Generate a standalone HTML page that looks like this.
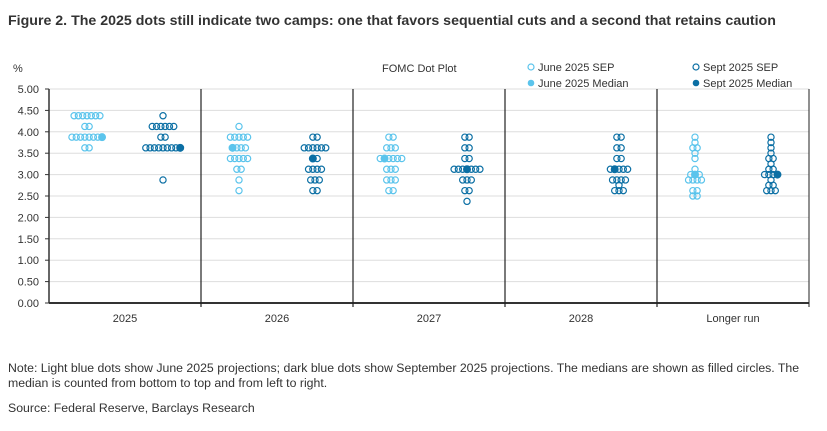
<!DOCTYPE html>
<html><head><meta charset="utf-8"><style>
body{margin:0;background:#fff;font-family:"Liberation Sans",sans-serif;}
svg text{font-family:"Liberation Sans",sans-serif;}
</style></head><body>
<svg width="827" height="426" viewBox="0 0 827 426">
<text x="8" y="25" font-size="14.2" font-weight="bold" fill="#333">Figure 2. The 2025 dots still indicate two camps: one that favors sequential cuts and a second that retains caution</text>
<text x="13" y="72" font-size="11" fill="#333">%</text>
<text x="382" y="72" font-size="11" fill="#333">FOMC Dot Plot</text>
<g>
<circle cx="531" cy="67" r="3" fill="#fff" stroke="#5bc4ec" stroke-width="1.2"/>
<text x="538" y="71" font-size="11" fill="#333">June  2025 SEP</text>
<circle cx="531" cy="83" r="3.3" fill="#5bc4ec"/>
<text x="538" y="87" font-size="11" fill="#333">June 2025 Median</text>
<circle cx="696" cy="67" r="3" fill="#fff" stroke="#0b6fa4" stroke-width="1.2"/>
<text x="703" y="71" font-size="11" fill="#333">Sept 2025 SEP</text>
<circle cx="696" cy="83" r="3.3" fill="#0b6fa4"/>
<text x="703" y="87" font-size="11" fill="#333">Sept 2025 Median</text>
</g>
<g id="plot"></g>
<text x="8" y="372" font-size="12.3" fill="#333">Note: Light blue dots show June 2025 projections; dark blue dots show September 2025 projections. The medians are shown as filled circles. The</text>
<text x="8" y="387" font-size="12.3" fill="#333">median is counted from bottom to top and from left to right.</text>
<text x="8" y="412" font-size="12.3" fill="#333">Source: Federal Reserve, Barclays Research</text>
</svg>
<script>
const categories=["2025","2026","2027","2028","Longer run"];
const yTicks=["0.00","0.50","1.00","1.50","2.00","2.50","3.00","3.50","4.00","4.50","5.00"];
// each: [value, count]
const juneDots=[
 [[3.625,2],[3.875,8],[4.125,2],[4.375,7]],
 [[2.625,1],[2.875,1],[3.125,2],[3.375,5],[3.625,4],[3.875,5],[4.125,1]],
 [[2.625,2],[2.875,3],[3.125,3],[3.375,6],[3.625,3],[3.875,2]],
 [],
 [[2.5,2],[2.625,2],[2.875,4],[3.0,3],[3.125,1],[3.375,1],[3.5,1],[3.625,2],[3.75,1],[3.875,1]]
];
const septDots=[
 [[2.875,1],[3.625,9],[3.875,2],[4.125,6],[4.375,1]],
 [[2.625,2],[2.875,3],[3.125,4],[3.375,2],[3.625,6],[3.875,2]],
 [[2.375,1],[2.625,2],[2.875,3],[3.125,7],[3.375,2],[3.625,2],[3.875,2]],
 [[2.625,3],[2.75,1],[2.875,4],[3.125,5],[3.375,2],[3.625,2],[3.875,2]],
 [[2.625,3],[2.75,2],[2.875,1],[3.0,4],[3.125,2],[3.25,1],[3.375,2],[3.5,1],[3.625,1],[3.75,1],[3.875,1]]
];
const X0=49,X1=809,Y0=303,Y5=89;
const NS="http://www.w3.org/2000/svg";
const g=document.getElementById('plot');
function y(v){return Y0-(v/5)*(Y0-Y5);}
const gw=(X1-X0)/categories.length;
function xc(i){return X0+gw*(i+0.5);}
function mk(t,a){const e=document.createElementNS(NS,t);for(const k in a)e.setAttribute(k,a[k]);g.appendChild(e);return e;}
yTicks.forEach((t,i)=>{const v=parseFloat(t);
 const l=mk('line',{x1:X0,x2:X1,y1:y(v),y2:y(v),stroke:v===0?'#333':'#ddd','stroke-width':v===0?2:1});
 
 
 mk('line',{x1:X0-4,x2:X0,y1:y(v),y2:y(v),stroke:'#333'});
 const tx=mk('text',{x:X0-10,y:y(v)+4,'font-size':11,'text-anchor':'end',fill:'#333'});tx.textContent=t;
 
 
});
mk('line',{x1:X0,x2:X0,y1:Y5,y2:Y0,stroke:'#333','stroke-width':1.5});
for(let i=1;i<=categories.length;i++){const x=X0+gw*i;
 const d=mk('line',{x1:x,x2:x,y1:Y5,y2:Y0+4,stroke:'#222','stroke-width':i===categories.length?1:1.2});
 
 
}
categories.forEach((c,i)=>{const t=mk('text',{x:xc(i),y:322,'font-size':11,'text-anchor':'middle',fill:'#333'});t.textContent=c;
 
 });
const STEP=4.3;
function drawSeries(data,off,col,name){
 data.forEach((rows,i)=>{
  const n=rows.reduce((s,r)=>s+r[1],0);const mi=Math.floor(n/2);let k=0;
  rows.slice().sort((a,b)=>a[0]-b[0]).forEach(r=>{
   const cx=xc(i)+off;
   for(let j=0;j<r[1];j++){
    const x=cx+(j-(r[1]-1)/2)*STEP;const med=(k===mi);
    const c=mk('circle',{cx:x,cy:y(r[0]),r:med?3.4:3.1,fill:med?col:'#fff','fill-opacity':med?1:0,stroke:col,'stroke-width':1.2});
    
    
    k++;
   }
  });
 });
}
drawSeries(juneDots,-38,'#5bc4ec','june');
drawSeries(septDots,38,'#0b6fa4','sept');
</script>
</body></html>
